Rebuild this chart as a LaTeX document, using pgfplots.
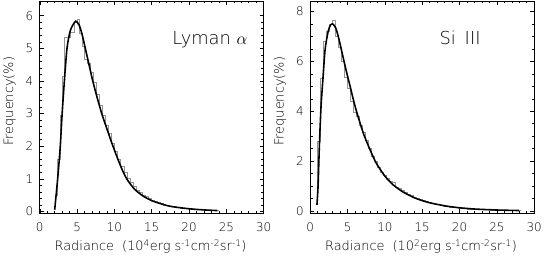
\documentclass[border=0pt]{standalone}
\usepackage{fontspec}
\setmainfont{DejaVu Sans ExtraLight}
\usepackage{pgfplots}
\pgfplotsset{compat=1.18}
\begin{document}
\begin{tikzpicture}
\pgfplotsset{
 panel/.style={
  scale only axis, width=226pt, height=214pt, anchor=south west,
  xmin=0, xmax=30, xtick={0,5,...,30}, minor x tick num=4,
  tick align=inside, major tick length=4pt, minor tick length=2.5pt,
  every tick/.style={black, line width=0.5pt},
  axis line style={line width=0.6pt},
  /pgf/number format/assume math mode=true,
  tick label style={font=\fontsize{12}{14}\selectfont, black},
  xticklabel style={yshift=-6pt},
  yticklabel style={xshift=-3pt},
  label style={font=\fontsize{13}{15}\selectfont, black},
  xlabel style={at={(axis description cs:0.495,-0.159)}, anchor=center},
  ylabel style={at={(axis description cs:-0.135,0.527)}, anchor=center},
  xlabel={Radiance~~(10\textsuperscript{#1}erg s\textsuperscript{-1}cm\textsuperscript{-2}sr\textsuperscript{-1})},
  ylabel={Frequency(\%)},
 },
 hist/.style={const plot mark left, color=black!42, line width=0.7pt, mark=none},
 fit/.style={black, line width=1.6pt, mark=none, smooth, tension=0.4},
}
\path (-39pt,-44pt) rectangle (506pt,215pt);
\begin{axis}[panel=4, at={(0pt,0pt)}, ymin=-0.05, ymax=6.45, ytick={0,...,6}, minor y tick num=4]
\addplot[hist] coordinates {
(2.0,0.5) (2.35,1.6) (2.7,2.95) (3.0,4.15) (3.35,5.35) (4.1,5.5) (4.65,5.8)
(5.1,5.88) (5.35,5.45) (5.65,5.05) (6.0,4.65) (6.4,4.55) (6.8,4.25) (7.2,3.95)
(7.6,3.6) (8.0,3.25) (8.4,2.95) (8.8,2.65) (9.2,2.4) (9.6,2.1) (10.0,1.85)
(10.4,1.6) (10.8,1.38) (11.3,1.2) (11.7,1.0) (12.1,0.88) (12.5,0.76) (12.9,0.66)
(13.3,0.58) (13.7,0.5) (14.1,0.45) (14.5,0.4) (14.9,0.35) (15.3,0.3) (15.7,0.28)
(16.1,0.25) (16.5,0.2) (16.9,0.18) (17.3,0.16) (17.7,0.14) (18.1,0.12) (18.9,0.1)
(19.7,0.08) (20.5,0.06) (21.3,0.05) (22.1,0.04) (22.9,0.03) (23.7,0.03) (24.0,0.03)
};
\addplot[fit] coordinates {
(2.0,0.05) (2.4,1.0) (2.75,2.0) (3.0,3.0) (3.3,4.0) (3.65,5.0) (4.1,5.55) (4.8,5.83)
(5.3,5.7) (5.7,5.4) (6.1,5.0) (6.6,4.5) (7.1,4.0) (7.7,3.48) (8.3,3.0) (9.0,2.53)
(9.6,2.13) (10.3,1.7) (11.0,1.3) (11.7,0.98) (12.7,0.68) (13.85,0.47) (15.2,0.31)
(17.4,0.16) (20.0,0.08) (22.0,0.045) (23.8,0.025)
};
\node[font=\fontsize{18}{20}\selectfont, black, anchor=base] at (axis cs:22.8,5.12) {Lyman~$\alpha$};
\end{axis}
\begin{axis}[panel=2, at={(273pt,0pt)}, ymin=-0.08, ymax=8.42, ytick={0,2,...,8}, minor y tick num=3]
\addplot[hist] coordinates {
(0.8,0.3) (1.0,2.8) (1.4,5.3) (1.8,6.8) (2.2,7.2) (2.6,7.5) (3.0,7.65) (3.4,7.0)
(3.8,6.55) (4.2,6.0) (4.6,5.35) (5.0,4.9) (5.4,4.4) (5.8,3.95) (6.2,3.8) (6.6,3.45)
(7.0,3.15) (7.4,2.85) (7.8,2.5) (8.2,2.2) (8.6,2.0) (9.0,1.75) (9.4,1.55) (9.8,1.42)
(10.2,1.3) (10.6,1.2) (11.0,1.15) (11.4,0.95) (11.8,0.9) (12.2,0.82) (12.6,0.75)
(13.0,0.68) (13.4,0.62) (13.8,0.55) (14.2,0.52) (14.6,0.47) (15.0,0.42) (15.4,0.38)
(15.8,0.34) (16.2,0.3) (16.6,0.28) (17.0,0.25) (17.4,0.22) (17.8,0.2) (18.2,0.18)
(18.6,0.16) (19.0,0.14) (19.4,0.13) (19.8,0.12) (20.2,0.1) (21.0,0.08) (21.8,0.07)
(22.6,0.06) (23.4,0.05) (24.2,0.04) (25.0,0.03) (25.8,0.03) (26.6,0.02) (27.4,0.02) (28.2,0.02)
};
\addplot[fit] coordinates {
(0.9,0.25) (1.05,1.0) (1.24,2.75) (1.45,4.2) (1.7,5.3) (2.0,6.5) (2.4,7.2) (2.7,7.45)
(3.0,7.5) (3.4,7.35) (3.8,6.95) (4.3,6.3) (4.8,5.65) (5.3,5.05) (6.1,4.1) (7.2,3.05)
(8.7,2.0) (10.0,1.4) (11.1,1.05) (12.5,0.75) (14.2,0.5) (16.0,0.33) (18.2,0.2) (20.0,0.13)
(22.0,0.08) (25.0,0.04) (28.0,0.02)
};
\node[font=\fontsize{18}{20}\selectfont, black, anchor=base] at (axis cs:20.07,6.67) {Si\hspace{9pt}III};
\end{axis}
\end{tikzpicture}
\end{document}
